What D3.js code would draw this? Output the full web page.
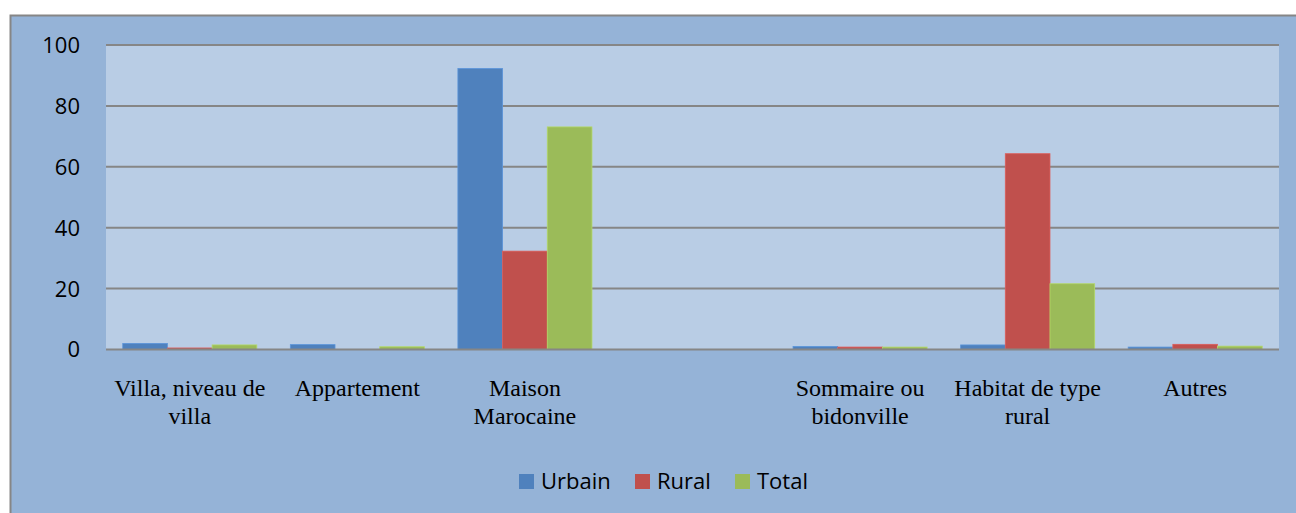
<!DOCTYPE html>
<html>
<head>
<meta charset="utf-8">
<script src="https://cdn.jsdelivr.net/npm/d3@7"></script>
<style>
  html, body { margin: 0; padding: 0; background: #ffffff; }
  svg { display: block; }
</style>
</head>
<body>
<svg id="chart" width="1296" height="513"></svg>
<script>
// Types de logement (%), par milieu de résidence
const categories = [
  ["Villa, niveau de", "villa"],
  ["Appartement"],
  ["Maison", "Marocaine"],
  [""],
  ["Sommaire ou", "bidonville"],
  ["Habitat de type", "rural"],
  ["Autres"]
];
const seriesNames = ["Urbain", "Rural", "Total"];
const urbain = [2.0, 1.6, 92.3, 0, 1.0, 1.5, 0.8];
const rural  = [0.5, 0,   32.3, 0, 0.8, 64.3, 1.7];
const total  = [1.5, 0.9, 73.1, 0, 0.8, 21.6, 1.1];
const yTicks = [0, 20, 40, 60, 80, 100];
const colors = ["#4f81bd", "#c0504d", "#9bbb59"];

const series = [urbain, rural, total];
const svg = d3.select("#chart");

// Zone du graphique
svg.append("rect")
  .attr("x", 10.5).attr("y", 15.5)
  .attr("width", 1300).attr("height", 520)
  .attr("fill", "#95b3d7")
  .attr("stroke", "#868686").attr("stroke-width", 2);

const plot = { left: 106, right: 1279, top: 45, bottom: 349.5 };

const x0 = d3.scaleBand()
  .domain(d3.range(categories.length))
  .range([plot.left, plot.right])
  .paddingInner(0.2).paddingOuter(0.1);
const x1 = d3.scaleBand()
  .domain(d3.range(seriesNames.length))
  .range([0, x0.bandwidth()]);
const y = d3.scaleLinear().domain([0, 100]).range([plot.bottom, plot.top]);

// Zone de traçage
svg.append("rect")
  .attr("x", plot.left).attr("y", plot.top)
  .attr("width", plot.right - plot.left).attr("height", plot.bottom - plot.top)
  .attr("fill", "#b9cde5");

// Quadrillage
svg.append("g")
  .selectAll("line")
  .data(yTicks.filter(t => t > 0))
  .join("line")
  .attr("x1", plot.left).attr("x2", plot.right)
  .attr("y1", d => y(d)).attr("y2", d => y(d))
  .attr("stroke", "#868686").attr("stroke-width", 2);

// Barres
const groups = svg.append("g")
  .selectAll("g")
  .data(categories.map((c, i) => i))
  .join("g")
  .attr("transform", i => `translate(${x0(i)},0)`);

groups.selectAll("rect")
  .data(i => series.map((s, k) => ({ k, v: s[i] })))
  .join("rect")
  .filter(d => d.v > 0)
  .attr("x", d => x1(d.k))
  .attr("y", d => y(d.v))
  .attr("width", x1.bandwidth())
  .attr("height", d => y(0) - y(d.v))
  .attr("fill", d => colors[d.k])
  .attr("stroke", d => d3.color(colors[d.k]).brighter(0.4))
  .attr("stroke-width", 0.8);

// Axe des abscisses
svg.append("line")
  .attr("x1", plot.left).attr("x2", plot.right)
  .attr("y1", y(0)).attr("y2", y(0))
  .attr("stroke", "#868686").attr("stroke-width", 2);

// Graduations de l'axe des ordonnées
const yAxis = d3.axisLeft(y).tickValues(yTicks).tickSize(0).tickPadding(0);
const gy = svg.append("g")
  .attr("transform", `translate(80,0)`)
  .call(yAxis);
gy.select(".domain").remove();
gy.selectAll("text")
  .attr("font-family", "'Open Sans', sans-serif")
  .attr("font-size", 22)
  .attr("fill", "#000")
  .attr("dy", "0.34em");

// Libellés des catégories
const labels = svg.append("g")
  .selectAll("text")
  .data(categories.map((c, i) => ({ c, i })))
  .join("text")
  .attr("x", d => x0(d.i) + x0.bandwidth() / 2)
  .attr("y", 396)
  .attr("text-anchor", "middle")
  .attr("font-family", "'Liberation Serif', 'Times New Roman', serif")
  .attr("font-size", 24)
  .attr("fill", "#000");
labels.selectAll("tspan")
  .data(d => d.c.map(line => ({ line, x: x0(d.i) + x0.bandwidth() / 2 })))
  .join("tspan")
  .attr("x", d => d.x)
  .attr("dy", (d, j) => j === 0 ? 0 : 28)
  .text(d => d.line);

// Légende
const legendX = [519, 635, 735];
const legend = svg.append("g")
  .selectAll("g")
  .data(seriesNames)
  .join("g")
  .attr("transform", (d, k) => `translate(${legendX[k]},474)`);
legend.append("rect")
  .attr("width", 15).attr("height", 15)
  .attr("fill", (d, k) => colors[k]);
legend.append("text")
  .attr("x", 22).attr("y", 15)
  .attr("font-family", "'Open Sans', sans-serif")
  .attr("font-size", 22)
  .attr("fill", "#000")
  .text(d => d);
</script>
</body>
</html>
